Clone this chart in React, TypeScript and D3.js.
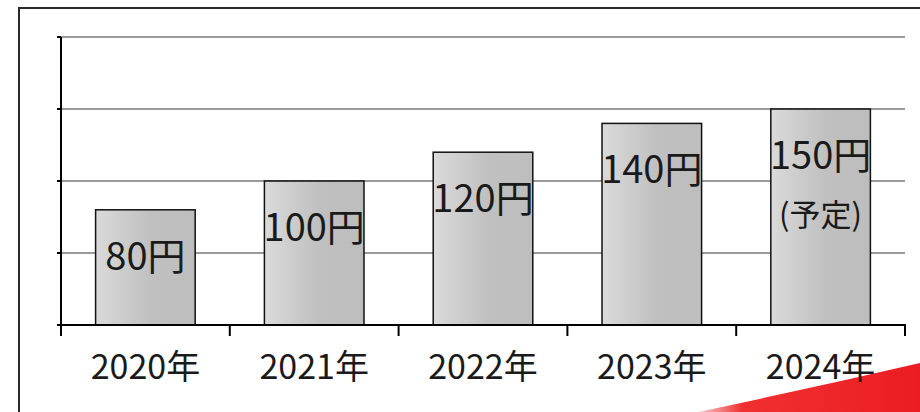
import { useEffect, useRef } from 'react';
import { scaleBand, scaleLinear, select } from 'd3';

const years = ['2020年', '2021年', '2022年', '2023年', '2024年'];
const prices = [80, 100, 120, 140, 150];
const valueLabels = ['80円', '100円', '120円', '140円', '150円'];
const noteLabels = ['', '', '', '', '(予定)'];
const yTicks = [0, 50, 100, 150, 200];

const FONT = '"Noto Sans CJK JP", "Noto Sans", sans-serif';

/**
 * D3 bar chart of yearly prices
 */
export default function App() {
  const svgRef = useRef<SVGSVGElement>(null);

  useEffect(() => {
    if (!svgRef.current) return;

    select(svgRef.current).selectAll('*').remove();

    const width = 920;
    const height = 412;
    const margin = { top: 37, right: 15, bottom: 87, left: 61 };
    const innerWidth = width - margin.left - margin.right;
    const innerHeight = height - margin.top - margin.bottom;

    const svg = select(svgRef.current)
      .attr('width', width)
      .attr('height', height)
      .style('font-family', FONT);

    // Bar gradient
    const defs = svg.append('defs');
    const grad = defs
      .append('linearGradient')
      .attr('id', 'barGrad')
      .attr('x1', '0%')
      .attr('x2', '100%')
      .attr('y1', '0%')
      .attr('y2', '0%');
    grad.append('stop').attr('offset', '0%').attr('stop-color', '#dadada');
    grad.append('stop').attr('offset', '55%').attr('stop-color', '#c0c0c0');
    grad.append('stop').attr('offset', '100%').attr('stop-color', '#bdbdbd');

    const redGrad = defs
      .append('linearGradient')
      .attr('id', 'redGrad')
      .attr('x1', '0%')
      .attr('x2', '100%')
      .attr('y1', '0%')
      .attr('y2', '0%');
    redGrad.append('stop').attr('offset', '0%').attr('stop-color', '#f7d0d0');
    redGrad.append('stop').attr('offset', '20%').attr('stop-color', '#f03030');
    redGrad.append('stop').attr('offset', '100%').attr('stop-color', '#ec1c24');

    svg.append('rect').attr('width', width).attr('height', height).attr('fill', '#fff');

    // Decorative red swoosh
    svg
      .append('path')
      .attr('d', 'M698,412 Q812,388 920,363 L920,412 Z')
      .attr('fill', 'url(#redGrad)');

    // Frame
    svg
      .append('rect')
      .attr('x', 19)
      .attr('y', 8)
      .attr('width', 960)
      .attr('height', 460)
      .attr('fill', 'none')
      .attr('stroke', '#2a2a2a')
      .attr('stroke-width', 2);

    const g = svg
      .append('g')
      .attr('transform', `translate(${margin.left},${margin.top})`);

    const xScale = scaleBand().domain(years).range([0, innerWidth]).paddingInner(0.41).paddingOuter(0.205);

    const yScale = scaleLinear().domain([0, 200]).range([innerHeight, 0]);

    // Gridlines
    g.selectAll('.grid')
      .data(yTicks.filter((d) => d > 0))
      .enter()
      .append('line')
      .attr('x1', 0)
      .attr('x2', innerWidth)
      .attr('y1', (d) => yScale(d))
      .attr('y2', (d) => yScale(d))
      .attr('stroke', '#9a9a9a')
      .attr('stroke-width', 2);

    // Bars
    g.selectAll('.bar')
      .data(prices)
      .enter()
      .append('rect')
      .attr('x', (_, i) => xScale(years[i]) || 0)
      .attr('y', (d) => yScale(d))
      .attr('width', xScale.bandwidth())
      .attr('height', (d) => innerHeight - yScale(d))
      .attr('fill', 'url(#barGrad)')
      .attr('stroke', '#111')
      .attr('stroke-width', 1.5);

    // Y axis
    g.append('line')
      .attr('x1', 0)
      .attr('x2', 0)
      .attr('y1', 0)
      .attr('y2', innerHeight + 11)
      .attr('stroke', '#000')
      .attr('stroke-width', 2);
    g.selectAll('.ytick')
      .data(yTicks)
      .enter()
      .append('line')
      .attr('x1', -4)
      .attr('x2', 0)
      .attr('y1', (d) => yScale(d))
      .attr('y2', (d) => yScale(d))
      .attr('stroke', '#000')
      .attr('stroke-width', 2);

    // X axis
    g.append('line')
      .attr('x1', 0)
      .attr('x2', innerWidth + 1)
      .attr('y1', innerHeight)
      .attr('y2', innerHeight)
      .attr('stroke', '#000')
      .attr('stroke-width', 2);
    const step = xScale.step();
    g.selectAll('.xtick')
      .data(years.map((_, i) => i + 1))
      .enter()
      .append('line')
      .attr('x1', (i) => i * step)
      .attr('x2', (i) => i * step)
      .attr('y1', innerHeight)
      .attr('y2', innerHeight + 11)
      .attr('stroke', '#000')
      .attr('stroke-width', 2);

    // Category labels
    g.selectAll('.xlabel')
      .data(years)
      .enter()
      .append('text')
      .attr('x', (d) => (xScale(d) || 0) + xScale.bandwidth() / 2)
      .attr('y', innerHeight + 54)
      .attr('text-anchor', 'middle')
      .attr('font-size', 34)
      .attr('fill', '#1a1a1a')
      .text((d) => d);

    // Value labels
    g.selectAll('.vlabel')
      .data(prices)
      .enter()
      .append('text')
      .attr('x', (_, i) => (xScale(years[i]) || 0) + xScale.bandwidth() / 2)
      .attr('y', (d) => yScale(d) + 60)
      .attr('text-anchor', 'middle')
      .attr('font-size', 38)
      .attr('fill', '#1a1a1a')
      .text((_, i) => valueLabels[i]);

    g.selectAll('.nlabel')
      .data(prices)
      .enter()
      .append('text')
      .attr('x', (_, i) => (xScale(years[i]) || 0) + xScale.bandwidth() / 2)
      .attr('y', (d) => yScale(d) + 117)
      .attr('text-anchor', 'middle')
      .attr('font-size', 31)
      .attr('fill', '#1a1a1a')
      .text((_, i) => noteLabels[i]);
  }, []);

  return (
    <div style={{ position: 'fixed', left: 0, top: 0 }}>
      <svg ref={svgRef} style={{ display: 'block' }} />
    </div>
  );
}
